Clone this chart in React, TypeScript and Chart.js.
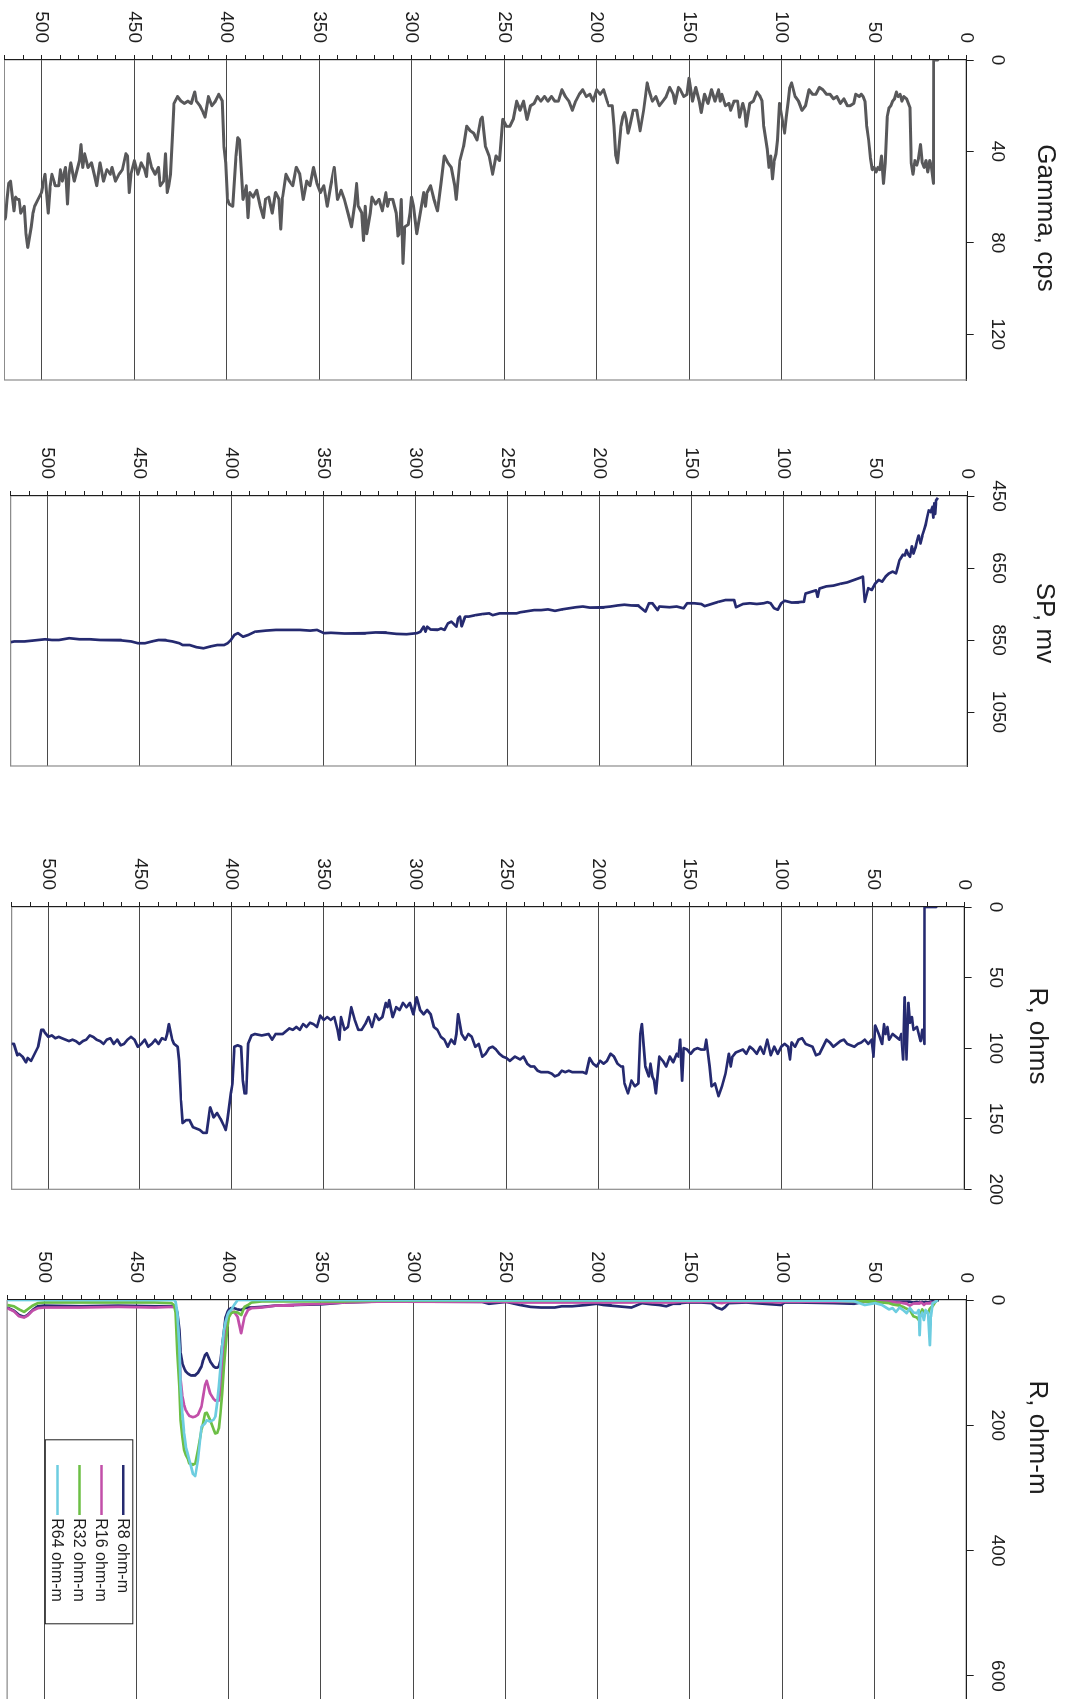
import React, { useEffect, useRef } from "react";
import { Chart, registerables } from "chart.js";

Chart.register(...registerables);

const FONT = '"Liberation Sans", Arial, Helvetica, sans-serif';

// ---------------- data ----------------
const depthTicks = [0, 10, 20, 30, 40, 50, 60, 70, 80, 90, 100, 110, 120, 130, 140, 150, 160, 170, 180, 190, 200, 210, 220, 230, 240, 250, 260, 270, 280, 290, 300, 310, 320, 330, 340, 350, 360, 370, 380, 390, 400, 410, 420, 430, 440, 450, 460, 470, 480, 490, 500, 510, 520];
const gammaTicks = [0, 40, 80, 120];
const spTicks = [450, 650, 850, 1050];
const rTicks = [0, 50, 100, 150, 200];
const rmTicks = [0, 200, 400, 600];
const rmLabels = ["R8 ohm-m", "R16 ohm-m", "R32 ohm-m", "R64 ohm-m"];

// [depth, gamma cps]
const gammaLog = [
  [15.6, 0], [17.8, 0], [18, 54], [19, 47], [20, 44], [21, 49], [22, 44], [23, 47], [24, 45], [25, 37],
  [26, 43], [27, 46], [28, 44], [29, 50], [30, 45], [30.6, 21], [31.5, 19], [32.5, 17], [34, 16], [35, 18],
  [36, 15], [37, 16], [38, 14], [39, 17], [40, 18], [41, 20], [42, 21], [43, 25], [44, 45], [45, 54],
  [46, 42], [47, 48], [48, 47], [49, 49], [50, 47], [51, 48], [52, 43], [53, 35], [54, 29], [55, 18],
  [56, 16], [57, 15], [58, 16], [60, 15], [61, 19], [63, 20], [64.5, 20], [66.4, 17], [68.3, 19], [70.2, 16],
  [72, 17], [73.9, 15], [75.8, 15], [77.7, 13], [79.6, 12], [81.5, 15], [83.3, 15], [85.2, 13], [87.1, 20], [89, 22],
  [90.9, 18], [92.7, 16], [94.6, 10], [95.6, 12], [96.5, 18], [97.5, 25], [98.4, 32], [100.3, 23], [101.2, 19], [102.2, 35],
  [103.1, 41], [104, 44], [105, 52], [105.9, 42], [106.9, 47], [107.8, 39], [109.7, 29], [110.6, 18], [111.6, 16], [113.4, 14],
  [115.3, 18], [117.2, 19], [119.1, 29], [120, 22], [121, 19], [122.8, 25], [123.8, 18], [125.7, 18], [127.6, 22], [128.5, 19],
  [130.4, 20], [132.3, 15], [133.2, 18], [134.1, 13], [136, 18], [137.9, 13], [139.8, 19], [141.7, 15], [143.5, 23], [144.5, 18],
  [146.4, 12], [148.2, 18], [150.1, 8], [151.1, 15], [152.9, 16], [154.8, 13], [155.8, 12], [157.6, 19], [158.6, 15], [160.5, 12],
  [162.4, 16], [164.2, 18], [166.1, 20], [168, 16], [169.9, 18], [171.8, 13], [172.7, 10], [174.6, 22], [176.5, 31], [178.3, 22],
  [180.2, 22], [182.1, 29], [183, 32], [184, 26], [184.9, 23], [185.9, 25], [186.8, 29], [188.7, 45], [189.6, 42], [190.6, 29],
  [191.5, 20], [193.4, 20], [194.3, 18], [196.2, 13], [198.1, 15], [200, 13], [201.9, 18], [203.7, 15], [205.6, 16], [207.5, 13],
  [209.4, 15], [211.3, 18], [213.1, 22], [215, 18], [216.9, 16], [218.8, 13], [220.7, 18], [222.6, 18], [224.4, 16], [226.3, 18],
  [228.2, 16], [230.1, 18], [232, 16], [233.8, 19], [235.7, 20], [237.6, 26], [239.5, 18], [241.4, 22], [243.2, 18], [245.1, 26],
  [246.9, 29], [248.8, 29], [250.7, 26], [252.5, 44], [254.4, 42], [256.2, 50], [258.1, 42], [260, 38], [261.8, 25], [262.7, 26],
  [264.6, 35], [266.5, 32], [268.3, 31], [270.2, 29], [272, 38], [273.9, 44], [275.8, 61], [276.7, 55], [278.6, 47], [280.4, 45],
  [282.3, 42], [284.1, 54], [286, 66], [287.9, 61], [289.7, 55], [291.6, 58], [292.5, 64], [293.4, 58], [295.3, 67], [297.2, 76],
  [299, 64], [300, 60], [300.9, 67], [301.8, 72], [303.7, 73], [304.6, 89], [305.6, 61], [306.5, 76], [307.4, 77], [308.3, 67],
  [310.2, 61], [312.1, 61], [313, 64], [313.9, 58], [315.8, 66], [317.6, 61], [319.5, 63], [321.4, 60], [322.3, 67], [324.2, 76],
  [325.1, 64], [326, 79], [326.9, 67], [328.8, 64], [329.7, 54], [330.7, 63], [332.5, 73], [334.4, 67], [336.3, 61], [338.1, 57],
  [340, 61], [341.8, 47], [343.7, 55], [345.6, 64], [347.4, 55], [349.3, 58], [351.1, 54], [353, 47], [354.9, 55], [356.7, 53],
  [358.6, 61], [360.4, 50], [362.3, 47], [364.2, 55], [366, 53], [367.9, 50], [369.7, 60], [370.7, 74], [371.6, 61], [373.5, 58],
  [375.3, 67], [377.2, 60], [379, 61], [380, 69], [381.8, 64], [383.7, 57], [385.6, 60], [387.4, 58], [388.4, 69], [389.3, 55],
  [391.1, 61], [393, 35], [393.9, 34], [394.9, 42], [396.7, 64], [398.6, 63], [399.5, 61], [400.4, 45], [401.4, 38], [402.3, 18],
  [404.2, 15], [406, 18], [407.9, 20], [409.8, 16], [411.6, 25], [412.6, 23], [414.4, 20], [416.3, 18], [417.2, 14], [419.1, 19],
  [420.9, 18], [422.8, 19], [424.6, 18], [426.5, 16], [428.4, 19], [429.3, 35], [430.3, 50], [431.2, 55], [432.1, 58], [433, 41],
  [434, 53], [435.8, 55], [436.8, 47], [438.6, 50], [440.5, 47], [442.3, 41], [443.3, 51], [444.2, 48], [446.1, 45], [447.9, 50],
  [449.8, 44], [451.7, 50], [452.6, 58], [453.5, 42], [454.4, 41], [456.3, 48], [458.1, 50], [460, 53], [461.9, 47], [462.8, 50],
  [464.7, 48], [466.5, 53], [468.4, 45], [470.2, 55], [471.2, 51], [473, 45], [474.9, 47], [476.7, 41], [477.7, 47], [478.6, 37],
  [479.5, 44], [481.4, 50], [482.3, 53], [484.2, 45], [485.1, 50], [486, 63], [487, 47], [488.8, 53], [489.8, 48], [490.7, 55],
  [492.6, 55], [494.4, 50], [495.3, 55], [496.3, 67], [498.1, 50], [499.1, 54], [500, 58], [501.9, 61], [503.7, 64], [504.6, 67],
  [505.6, 73], [507.4, 82], [508.4, 76], [509.3, 64], [511.2, 67], [512.1, 61], [513, 61], [514, 60], [514.9, 66], [516.7, 53],
  [517.7, 54], [518.6, 61], [519.5, 69], [520, 70],
];

// [depth, SP mv]
const spLog = [
  [16, 455], [17, 462], [17.5, 500], [18, 470], [18.5, 510], [19, 480], [20, 495], [21, 490], [21.8, 508], [22.7, 530],
  [23.6, 545], [24.5, 560], [25.5, 582], [26.5, 560], [27.4, 575], [28.3, 595], [29.3, 610], [30.2, 590], [31.2, 619], [32.2, 612],
  [33.1, 600], [34, 615], [35, 613], [36.9, 628], [37.8, 646], [38.8, 665], [40.7, 660], [42.6, 665], [44.5, 674], [46.4, 688],
  [48.2, 683], [50.1, 693], [52, 711], [53.9, 706], [55.8, 744], [56.8, 674], [57.7, 676], [61.5, 683], [65.3, 690], [69.1, 694],
  [72.8, 699], [76.6, 701], [80.4, 707], [81.4, 730], [82.3, 712], [86.1, 718], [88, 721], [88.9, 744], [89.9, 744], [91.8, 745],
  [95.5, 746], [99.3, 741], [101.2, 748], [103.1, 766], [105, 762], [106.9, 748], [108.7, 745], [110.7, 748], [114.5, 750], [118.2, 748],
  [122, 750], [125.8, 759], [126.8, 739], [129.6, 739], [131.5, 739], [135.3, 744], [139.1, 750], [142.8, 756], [144.7, 750], [148.5, 748],
  [152.3, 748], [154.2, 762], [158, 757], [161.8, 759], [167.4, 757], [168.4, 767], [171.2, 748], [173.1, 748], [175, 771], [178.8, 755],
  [182.6, 754], [186.4, 752], [190.1, 754], [193.9, 757], [197.7, 759], [201.5, 761], [205.3, 759], [209, 757], [212.8, 759], [216.6, 762],
  [220.4, 765], [224.2, 769], [228, 765], [231.7, 767], [235.5, 767], [239.3, 770], [243.1, 773], [245, 776], [248.7, 776], [254.3, 776],
  [258, 781], [260, 776], [263.7, 778], [267.4, 781], [271, 785], [273, 785], [274.9, 812], [275.8, 785], [276.8, 790], [277.7, 813],
  [280.5, 799], [282.4, 804], [284.2, 822], [286.1, 818], [288, 822], [289.9, 820], [291.7, 822], [293.6, 813], [294.5, 827], [295.5, 813],
  [297.3, 827], [299.2, 831], [304.8, 834], [310.4, 833], [316, 830], [321.7, 829], [327.3, 831], [332.9, 833], [338.5, 831], [346, 830],
  [349.7, 831], [353.5, 822], [357.2, 824], [362.8, 822], [368.4, 822], [375.9, 822], [381.5, 824], [387.2, 827], [390.9, 836], [393.7, 841],
  [396.5, 831], [398.4, 836], [400.3, 850], [402.1, 859], [404, 864], [407.7, 864], [411.5, 868], [415.2, 873], [419, 870], [422.7, 864],
  [426.5, 864], [428.3, 859], [432.1, 854], [435.8, 851], [439.6, 850], [443.3, 854], [447, 859], [450.8, 859], [454.5, 854], [460.1, 851],
  [465.8, 850], [471.4, 850], [477, 848], [482.6, 848], [488.2, 845], [493.8, 850], [497.6, 850], [501.3, 848], [506.9, 851], [512.5, 854],
  [518.1, 854], [520, 856],
];

// [depth, R ohms]
const rOhmLog = [
  [15.5, 0], [21.8, 0], [21.9, 97], [23.1, 87], [24, 95], [25, 90], [26, 85], [27.9, 87], [28.8, 78], [29.8, 82],
  [30.7, 68], [31.7, 108], [32.7, 64], [33.6, 108], [34.5, 90], [35.5, 94], [37.4, 92], [39.3, 90], [41.2, 94], [42.1, 85],
  [43.1, 90], [44, 83], [45, 97], [46.9, 90], [48.8, 84], [49.7, 106], [50.7, 94], [52.6, 97], [54.5, 94], [56.4, 96],
  [58.3, 97], [60.2, 99], [62.1, 98], [64, 97], [65.9, 94], [67.8, 95], [69.7, 97], [71.6, 99], [73.5, 96], [75.4, 94],
  [77.3, 99], [79.2, 104], [81.1, 105], [83, 99], [84.9, 98], [86.8, 97], [88.7, 93], [90.6, 94], [92.5, 99], [94.4, 96],
  [95.3, 108], [96.3, 99], [98.2, 97], [100.1, 99], [102, 104], [103.9, 99], [105.8, 105], [107.7, 94], [109.6, 104], [111.5, 99],
  [113.4, 104], [115.3, 101], [117.2, 99], [119.1, 104], [121, 101], [122.9, 102], [124.8, 103], [126.7, 106], [127.6, 113], [128.6, 104],
  [130.5, 118], [132.4, 127], [134.3, 134], [136.2, 125], [138.1, 127], [139.1, 113], [141, 94], [141.9, 101], [143.8, 101], [145.7, 100],
  [147.6, 101], [149.5, 104], [151.4, 101], [153.3, 100], [154.2, 123], [155.2, 94], [156.1, 106], [157.1, 104], [159, 110], [160.9, 106],
  [162.8, 113], [164.7, 109], [166.6, 106], [168.5, 132], [169.4, 123], [170.4, 120], [171.4, 111], [172.3, 120], [174.2, 113], [176.1, 83],
  [177, 90], [178, 125], [179.9, 127], [181.8, 123], [183.7, 132], [185.6, 125], [186.5, 113], [187.5, 113], [189.4, 111], [191.3, 106],
  [193.2, 104], [195.1, 109], [197, 111], [198.9, 109], [200.8, 113], [202.7, 111], [204.6, 107], [206.5, 118], [208.4, 117], [210.3, 117],
  [212.2, 117], [214.1, 117], [216, 116], [217.9, 117], [219.8, 116], [221.7, 119], [223.6, 120], [225.4, 118], [227.3, 117], [229.2, 117],
  [231.1, 117], [233, 116], [234.9, 113], [236.8, 113], [238.7, 111], [240.7, 106], [242.6, 108], [245.4, 106], [248.2, 109], [250, 107],
  [252, 106], [253.9, 104], [255.7, 101], [257.6, 99], [259.5, 100], [261.4, 104], [263.2, 106], [265.1, 97], [267, 99], [268.9, 92],
  [270.8, 90], [272.6, 94], [274.5, 90], [276.4, 76], [277.3, 90], [278.3, 97], [280.2, 94], [282, 99], [283.9, 94], [285.8, 92],
  [287.7, 87], [289.6, 85], [291.4, 76], [293.3, 73], [295.2, 76], [297.1, 73], [299, 64], [300.8, 76], [302.7, 68], [304.6, 71],
  [306.5, 68], [308.3, 73], [310.2, 71], [312.1, 78], [314, 66], [314.9, 71], [315.9, 68], [317.7, 78], [319.6, 80], [321.5, 76],
  [323.4, 85], [325.3, 78], [327.1, 83], [329, 87], [330.9, 87], [332.8, 80], [334.7, 71], [336.5, 85], [338.4, 87], [340.3, 78],
  [341.2, 94], [342.2, 87], [344, 78], [345.9, 80], [347.8, 78], [349.7, 80], [351.6, 77], [353.4, 85], [355.3, 83], [357.2, 82],
  [359.1, 85], [361, 83], [362.8, 87], [364.7, 85], [366.6, 87], [368.5, 86], [372.2, 90], [376, 90], [377.9, 94], [379.8, 90],
  [383.5, 91], [387.3, 90], [389.1, 91], [391, 97], [392, 132], [392.9, 132], [393.8, 123], [394.8, 99], [396.7, 98], [398.5, 99],
  [399.5, 125], [400.4, 132], [402.3, 151], [403.2, 158], [404.2, 155], [406.1, 150], [407.9, 146], [409.8, 149], [411.7, 142], [413.6, 160],
  [415.5, 160], [417.3, 158], [419.2, 157], [421.1, 156], [423, 151], [424.8, 151], [426.7, 153], [427.6, 137], [428.6, 109], [429.5, 99],
  [431.4, 97], [432.4, 94], [434.2, 83], [435.2, 90], [436.1, 94], [438, 93], [439.9, 97], [441.7, 94], [443.6, 97], [445.5, 99],
  [447.4, 94], [449.3, 97], [451.2, 99], [453, 94], [454.9, 92], [456.8, 94], [458.7, 97], [460.5, 98], [462.4, 94], [464.3, 97],
  [466.2, 93], [468.1, 94], [469.9, 97], [471.8, 95], [473.7, 94], [475.6, 92], [477.4, 91], [479.3, 94], [481.2, 95], [483.1, 97],
  [485, 95], [486.8, 94], [488.7, 95], [490.6, 94], [492.5, 93], [494.3, 92], [496.2, 93], [498.1, 91], [500, 92], [501.9, 89],
  [502.8, 87], [503.8, 87], [505.6, 99], [507.5, 104], [509.4, 109], [511.3, 107], [512.2, 110], [514.1, 106], [516, 104], [516.9, 105],
  [518.8, 97], [520, 97],
];

// [depth, R8, R16, R32, R64] ohm-m
const rhoLog = [
  [15.7, 0, 0, 0, 0], [17, 1, 2, 3, 3], [18.5, 2, 5, 10, 5], [19.4, 3, 4, 12, 27], [20, 3, 5, 14, 72],
  [20.9, 4, 6, 21, 21], [22.3, 3, 5, 18, 16], [23.2, 4, 8, 19, 32], [24.1, 3, 5, 15, 20], [25.1, 4, 4, 22, 27],
  [25.5, 3, 5, 25, 56], [26, 4, 6, 32, 16], [27, 3, 5, 28, 21], [28.9, 4, 6, 26, 20], [30.8, 3, 9, 16, 13],
  [32.6, 3, 6, 14, 21], [34.5, 3, 5, 11, 16], [36.4, 2, 4, 9, 12], [38.3, 3, 4, 8, 19], [40.2, 2, 3, 7, 13],
  [42.1, 2, 3, 5, 15], [45.9, 3, 3, 4, 8], [49.6, 3, 2, 3, 5], [55.3, 3, 2, 2, 8], [61, 6, 3, 2, 2],
  [72.3, 5, 3, 1, 1], [91.1, 4, 3, 1, 0], [98.7, 4, 3, 1, 0], [100.6, 8, 4, 1, 0], [110, 6, 3, 1, 0],
  [119.5, 4, 3, 1, 0], [128.9, 5, 3, 1, 0], [130.8, 11, 4, 1, 0], [132.7, 15, 5, 1, 0], [135.5, 12, 4, 1, 0],
  [138.3, 5, 3, 1, 0], [144, 4, 3, 1, 0], [151.5, 4, 3, 1, 0], [155.3, 5, 3, 1, 0], [159.1, 6, 4, 1, 0],
  [162.8, 10, 4, 1, 0], [166.6, 8, 4, 1, 0], [170.4, 7, 4, 1, 0], [176, 5, 3, 1, 0], [181.7, 12, 4, 1, 0],
  [185.5, 11, 4, 1, 0], [193, 9, 4, 1, 0], [196.8, 8, 4, 1, 0], [200.6, 6, 4, 1, 0], [206.3, 8, 4, 1, 0],
  [213.8, 10, 4, 1, 0], [219.5, 10, 4, 1, 0], [223.2, 12, 4, 1, 0], [230.8, 12, 4, 1, 0], [236.4, 11, 4, 1, 0],
  [242, 8, 4, 1, 0], [249.5, 3, 3, 1, 0], [258.9, 6, 3, 1, 0], [262.6, 3, 3, 1, 0], [281.3, 2, 2, 1, 0],
  [300, 2, 2, 1, 0], [318.6, 3, 3, 1, 0], [337.3, 4, 4, 2, 0], [350.3, 7, 6, 2, 0], [365.2, 8, 8, 2, 0],
  [374.6, 9, 9, 2, 0], [382, 11, 12, 3, 0], [387.6, 12, 13, 4, 0], [389.5, 12, 16, 8, 0], [391.4, 13, 27, 11, 0],
  [393.2, 16, 53, 24, 0], [395.1, 15, 27, 20, 0], [397, 13, 19, 19, 8], [398.7, 13, 19, 21, 16], [399.8, 15, 21, 27, 19],
  [400.6, 19, 32, 43, 24], [401.6, 27, 48, 74, 35], [402.5, 48, 74, 106, 48], [403.5, 74, 112, 149, 74], [404.4, 96, 144, 181, 106],
  [405.3, 106, 160, 205, 138], [406.2, 108, 161, 212, 165], [407.2, 108, 160, 213, 186], [408.1, 106, 158, 207, 191], [410, 98, 149, 192, 194],
  [411.9, 85, 129, 180, 192], [412.8, 88, 136, 181, 197], [413.8, 96, 154, 197, 200], [414.7, 106, 170, 207, 202], [416.6, 116, 183, 239, 255],
  [418.1, 120, 186, 261, 281], [419.4, 121, 187, 263, 277], [420.3, 120, 186, 262, 266], [421.3, 119, 185, 261, 255], [422.2, 117, 181, 253, 245],
  [423.2, 114, 176, 247, 234], [424.1, 109, 168, 239, 213], [425.1, 101, 154, 218, 181], [426, 85, 128, 192, 138], [426.7, 48, 85, 138, 74],
  [427.8, 21, 32, 85, 21], [428.7, 11, 12, 20, 3], [429.6, 10, 11, 8, 0], [431, 10, 11, 5, 0], [440, 10, 12, 4, 0],
  [460, 9, 11, 4, 0], [480, 10, 12, 4, 0], [500, 9, 12, 4, 0], [503.4, 10, 13, 5, 0], [506.2, 16, 17, 9, 0],
  [509, 24, 25, 15, 0], [510.8, 27, 28, 19, 0], [513.6, 24, 26, 15, 0], [516.4, 17, 18, 10, 0], [520, 12, 13, 8, 0],
];

// ---------------- styling ----------------
const AXIS = "#1e1e1e";
const GRID = "#4a4a4a";
const FRAME = "#8c8c8c";
const TEXT = "#1e1e1e";
const GAMMA_COLOR = "#58585a";
const NAVY = "#252a70";
const RHO_COLORS = ["#252a70", "#c24fa9", "#6cbf45", "#6dcde0"];

const toPts = (rows, col) => rows.map((r) => ({ x: r[col], y: r[0] }));

const lineDs = (label, data, color, width, order = 0) => ({
  label,
  data,
  borderColor: color,
  backgroundColor: color,
  borderWidth: width,
  pointRadius: 0,
  fill: false,
  tension: 0,
  borderJoinStyle: "round",
  order,
});

const panels = [
  {
    key: "gamma",
    canvasLeft: 0,
    canvasWidth: 405,
    plotWidth: 320,
    chartTop: 99.3,
    chartBottom: 1061.5,
    xMin: 0,
    xMax: 140,
    xTicks: gammaTicks,
    title: "Gamma, cps",
    titleDx: 158,
    titleBaseline: 28,
    datasets: [lineDs("Gamma", toPts(gammaLog, 1), GAMMA_COLOR, 3)],
    legend: false,
  },
  {
    key: "sp",
    canvasLeft: 436,
    canvasWidth: 356,
    plotWidth: 270,
    chartTop: 98.6,
    chartBottom: 1055.3,
    xMin: 450,
    xMax: 1200,
    xTicks: spTicks,
    title: "SP, mv",
    titleDx: 127,
    titleBaseline: 29,
    datasets: [lineDs("SP", toPts(spLog, 1), NAVY, 2.7)],
    legend: false,
  },
  {
    key: "rohm",
    canvasLeft: 847,
    canvasWidth: 368,
    plotWidth: 282.3,
    chartTop: 101.4,
    chartBottom: 1054.3,
    xMin: 0,
    xMax: 200,
    xTicks: rTicks,
    title: "R, ohms",
    titleDx: 129,
    titleBaseline: 36,
    datasets: [lineDs("R", toPts(rOhmLog, 1), NAVY, 2.7)],
    legend: false,
  },
  {
    key: "rho",
    canvasLeft: 1240,
    canvasWidth: 524,
    plotWidth: 438.6,
    chartTop: 99.3,
    chartBottom: 1058.8,
    xMin: 0,
    xMax: 700,
    xTicks: rmTicks,
    title: "R, ohm-m",
    titleDx: 137.5,
    titleBaseline: 36,
    datasets: rmLabels.map((lab, i) => lineDs(lab, toPts(rhoLog, i + 1), RHO_COLORS[i], 2.7, 3 - i)),
    legend: true,
  },
];

const AXIS_W = 60;
const H = 1066;

function Panel({ spec }) {
  const ref = useRef(null);
  useEffect(() => {
    const framePlugin = {
      id: "grayFrame",
      beforeDatasetsDraw(chart) {
        const { ctx, chartArea: a } = chart;
        ctx.save();
        ctx.strokeStyle = FRAME;
        ctx.lineWidth = 1.2;
        ctx.beginPath();
        ctx.moveTo(a.right, a.top);
        ctx.lineTo(a.right, a.bottom);
        ctx.lineTo(a.left, a.bottom);
        ctx.stroke();
        ctx.restore();
      },
    };
    const titlePlugin = {
      id: "panelTitle",
      afterDraw(chart) {
        const { ctx, chartArea: a } = chart;
        ctx.save();
        ctx.font = `26px ${FONT}`;
        ctx.fillStyle = TEXT;
        ctx.textAlign = "center";
        ctx.textBaseline = "alphabetic";
        ctx.fillText(spec.title, a.left + spec.titleDx, spec.titleBaseline);
        ctx.restore();
      },
    };
    const legendPlugin = {
      id: "boxLegend",
      afterDraw(chart) {
        if (!spec.legend) return;
        const { ctx, chartArea: a } = chart;
        const left = a.left + 139.3;
        const top = 932.7;
        const w = 184;
        const h = 87.5;
        ctx.save();
        ctx.fillStyle = "#ffffff";
        ctx.fillRect(left, top, w, h);
        ctx.strokeStyle = AXIS;
        ctx.lineWidth = 1;
        ctx.strokeRect(left + 0.5, top + 0.5, w, h);
        ctx.font = `16px ${FONT}`;
        ctx.textBaseline = "middle";
        ctx.textAlign = "left";
        chart.data.datasets.forEach((ds, i) => {
          const y = top + 10 + i * 21.9;
          ctx.strokeStyle = ds.borderColor;
          ctx.lineWidth = 2.5;
          ctx.beginPath();
          ctx.moveTo(left + 25.7, y);
          ctx.lineTo(left + 75.7, y);
          ctx.stroke();
          ctx.fillStyle = TEXT;
          ctx.fillText(ds.label, left + 79, y + 1);
        });
        ctx.restore();
      },
    };

    const padRight = spec.canvasWidth - AXIS_W - spec.plotWidth;
    const chart = new Chart(ref.current, {
      type: "line",
      data: { datasets: spec.datasets },
      options: {
        animation: false,
        responsive: false,
        maintainAspectRatio: false,
        events: [],
        layout: { padding: { left: 0, top: 0, right: padRight, bottom: H - spec.chartBottom } },
        plugins: { legend: { display: false }, tooltip: { enabled: false }, title: { display: false } },
        elements: { point: { radius: 0 }, line: { tension: 0 } },
        scales: {
          x: {
            type: "linear",
            position: "top",
            min: spec.xMin,
            max: spec.xMax,
            afterBuildTicks: (s) => {
              s.ticks = spec.xTicks.map((v) => ({ value: v }));
            },
            afterFit: (s) => {
              s.height = spec.chartTop;
              s.paddingLeft = 0;
              s.paddingRight = 0;
            },
            grid: { drawOnChartArea: false, drawTicks: true, tickLength: 7, color: AXIS, tickColor: AXIS, lineWidth: 1 },
            border: { display: true, color: AXIS, width: 1.2 },
            ticks: {
              autoSkip: false,
              maxRotation: 0,
              padding: 12,
              color: TEXT,
              font: { family: FONT, size: 19 },
              callback: (v) => String(v),
            },
          },
          y: {
            type: "linear",
            position: "left",
            reverse: true,
            min: 0,
            max: 520,
            afterBuildTicks: (s) => {
              s.ticks = depthTicks.map((v) => ({ value: v }));
            },
            afterFit: (s) => {
              s.width = AXIS_W;
              s.paddingTop = 0;
              s.paddingBottom = 0;
            },
            grid: {
              drawOnChartArea: true,
              drawTicks: true,
              tickLength: 5,
              lineWidth: 1,
              color: (c) =>
                c.tick && c.tick.value % 50 === 0 && c.tick.value > 0 && c.tick.value < 520 ? GRID : "rgba(0,0,0,0)",
              tickColor: AXIS,
            },
            border: { display: true, color: AXIS, width: 1.2 },
            ticks: {
              autoSkip: false,
              padding: 12,
              color: TEXT,
              font: { family: FONT, size: 19 },
              callback: (v) => (Math.round(v) % 50 === 0 && v < 520 ? String(Math.round(v)) : ""),
            },
          },
        },
      },
      plugins: [framePlugin, titlePlugin, legendPlugin],
    });
    return () => chart.destroy();
  }, [spec]);

  return (
    <canvas
      ref={ref}
      width={spec.canvasWidth}
      height={H}
      style={{ position: "absolute", left: spec.canvasLeft, top: 0, width: spec.canvasWidth, height: H }}
    />
  );
}

export default function App() {
  useEffect(() => {
    document.body.style.margin = "0";
    document.documentElement.style.overflow = "hidden";
  }, []);
  return (
    <div
      style={{
        position: "absolute",
        left: 0,
        top: 0,
        width: 1699,
        height: H,
        overflow: "hidden",
        background: "#ffffff",
        transformOrigin: "0 0",
        transform: "translateX(1066px) rotate(90deg)",
      }}
    >
      {panels.map((p) => (
        <Panel key={p.key} spec={p} />
      ))}
    </div>
  );
}
